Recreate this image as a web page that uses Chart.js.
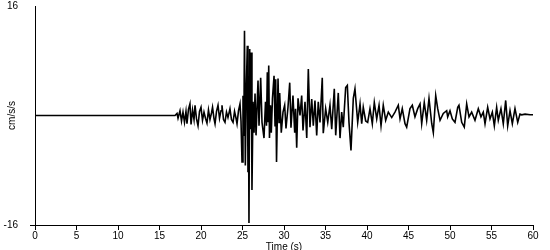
<!DOCTYPE html>
<html>
<head>
<meta charset="utf-8">
<script src="https://cdn.jsdelivr.net/npm/chart.js@4/dist/chart.umd.min.js"></script>
<style>
  html, body { margin: 0; padding: 0; background: #ffffff; }
  #c { display: block; }
</style>
</head>
<body>
<canvas id="c" width="550" height="250"></canvas>
<script>
// Time (s) of each traced sample
const times = [
  0, 16.87,
  17.11, 17.23, 17.47, 17.65, 17.83, 18.01, 18.19, 18.31, 18.49, 18.67,
  18.80, 18.98, 19.16, 19.28, 19.46, 19.64, 19.82, 20.00, 20.18, 20.36,
  20.54, 20.72, 20.90, 21.08, 21.27, 21.39, 21.57, 21.69, 21.87, 22.05,
  22.23, 22.41, 22.53, 22.71, 22.89, 23.07, 23.25, 23.49, 23.67, 23.86,
  24.04, 24.22, 24.34, 24.52, 24.70, 24.82,
  24.94, 25.06, 25.16, 25.24, 25.34, 25.46, 25.58, 25.66, 25.72, 25.78,
  25.87, 25.96, 26.06, 26.14, 26.27, 26.39, 26.51, 26.63, 26.87, 26.99,
  27.19, 27.35, 27.59, 27.77, 27.89, 27.99, 28.07, 28.16, 28.25, 28.37,
  28.47, 28.61, 28.80, 28.92, 29.00, 29.10, 29.28, 29.40, 29.48, 29.67,
  29.88, 30.08, 30.24, 30.48, 30.69, 30.84, 31.08, 31.29, 31.39, 31.53,
  31.69, 31.93, 32.13, 32.29, 32.53, 32.74, 32.93, 33.13, 33.34, 33.53,
  33.73, 33.94, 34.13, 34.34, 34.61, 34.73, 35.02, 35.27, 35.54, 35.75,
  36.06, 36.23, 36.54, 36.75, 36.95, 37.14, 37.43, 37.63, 37.83, 38.07,
  38.35, 38.55, 38.88, 39.16, 39.36, 39.55, 39.84, 40.08, 40.36, 40.64,
  40.88, 41.17, 41.45, 41.69, 41.96, 42.25, 42.57, 42.98, 43.37, 43.77,
  43.98, 44.25, 44.58, 44.78, 45.18, 45.46, 45.78, 46.11, 46.39, 46.59,
  46.90, 47.19, 47.47, 47.80, 47.99, 48.28, 48.52, 48.80, 49.19, 49.60,
  49.72, 50.00, 50.28, 50.60, 50.93, 51.08, 51.41, 51.72, 52.01, 52.29,
  52.61, 53.01, 53.41, 53.73, 54.01, 54.22, 54.54, 54.82, 55.10, 55.34,
  55.62, 55.82, 56.14, 56.42, 56.71, 56.95, 57.23, 57.51, 57.83, 58.16,
  58.43, 58.64, 59.04, 59.64, 60.00
];

// Acceleration (cm/s/s)
const accel = [
  0, 0,
  0.3, -0.4, 0.7, -0.8, 0.5, -1.0, 0.6, -1.2, 0.9, 1.7,
  -1.3, 0.8, -0.6, 1.5, -0.5, -1.5, 0.6, 1.2, -0.7, 0.5,
  -0.4, -1.1, 0.8, -0.6, 0.4, 1.2, -0.5, -1.2, 0.6, 1.5,
  -0.4, 0.7, 1.5, -0.6, -1.0, 0.5, -0.3, 1.0, -0.6, -1.0,
  0.6, -0.4, -1.2, 0.7, 1.7, -0.8,
  -6.8, 2.9, -3.0, 12.4, -7.3, 4.0, 10.2, -8.3, 2.0, -15.7,
  9.7, -2.0, 9.2, -10.9, 2.0, -2.5, 3.2, -2.9, 5.1, -1.5,
  5.5, -1.0, -3.3, 2.0, -1.5, 6.3, -1.0, 7.3, -3.3, 1.5,
  -2.5, 2.5, 5.8, -1.5, 5.3, -6.8, 5.4, -1.0, 3.3, -2.5,
  0.5, 1.5, -1.9, 1.2, 4.8, -1.8, 2.9, -2.5, 1.0, -4.7,
  2.5, 0.0, 2.9, -2.2, 2.0, -3.3, 6.8, -1.7, 2.4, -1.5,
  2.2, -2.9, 2.0, -1.0, 5.5, -2.6, 1.0, -1.0, 1.5, -2.0,
  3.9, -2.9, 3.3, -3.3, 0.5, -1.7, 4.1, 4.4, -1.0, -5.1,
  2.5, 3.9, -1.0, 1.7, -1.2, 1.2, -0.8, -1.0, 1.0, -1.2,
  1.9, -0.5, 1.5, -1.5, 1.5, -0.7, 0.5, -0.3, 0.5, 1.5,
  -0.5, 1.0, -1.2, -1.7, 1.0, 1.5, -0.2, 1.0, 1.7, -1.2,
  1.9, -0.7, 2.5, -1.2, -2.5, 2.9, 1.0, -0.7, 0.3, 0.7,
  -0.2, 0.7, -0.5, -1.0, 1.2, 1.5, -1.0, -1.7, 1.7, -0.2,
  0.5, -0.7, 1.0, -0.2, 0.5, -1.2, 1.2, -0.5, 0.5, -1.5,
  1.2, -0.7, 1.0, -1.2, 2.2, -1.5, 0.7, -1.2, 1.0, -1.0,
  0.2, 0.1, 0.2, 0.1, 0.1
];

const xTicks = [0, 5, 10, 15, 20, 25, 30, 35, 40, 45, 50, 55, 60];
const yTicks = [-16, 16];
const xTitle = 'Time (s)';
const yTitle = 'cm/s/s';

const n = Math.min(times.length, accel.length);
const points = [];
for (let i = 0; i < n; i++) points.push({ x: times[i], y: accel[i] });

const FONT = { family: '"Liberation Sans", Arial, sans-serif', size: 10 };

new Chart(document.getElementById('c'), {
  type: 'line',
  data: {
    datasets: [{
      data: points,
      borderColor: '#000000',
      borderWidth: 1.6,
      pointRadius: 0,
      tension: 0,
      fill: false
    }]
  },
  options: {
    responsive: false,
    animation: false,
    devicePixelRatio: 1,
    layout: { padding: { left: 0, right: 17, top: 6, bottom: 0 } },
    plugins: { legend: { display: false }, tooltip: { enabled: false } },
    scales: {
      x: {
        type: 'linear',
        min: xTicks[0],
        max: xTicks[xTicks.length - 1],
        afterBuildTicks: s => { s.ticks = xTicks.map(v => ({ value: v })); },
        afterFit: s => { s.height = 25; s.paddingLeft = 0; s.paddingRight = 0; },
        grid: { drawOnChartArea: false, tickLength: 5, color: '#000000', tickColor: '#000000' },
        border: { color: '#000000', width: 1 },
        ticks: { color: '#000000', font: FONT, padding: 0, maxRotation: 0, autoSkip: false },
        title: {
          display: true, text: xTitle, color: '#000000',
          font: { family: FONT.family, size: 10, lineHeight: 1 },
          padding: { top: 0, bottom: -2 }
        }
      },
      y: {
        type: 'linear',
        min: yTicks[0],
        max: yTicks[yTicks.length - 1],
        afterBuildTicks: s => { s.ticks = yTicks.map(v => ({ value: v })); },
        afterFit: s => { s.width = 35; s.paddingTop = 0; s.paddingBottom = 0; },
        grid: {
          drawOnChartArea: false, tickLength: 5, color: '#000000',
          tickColor: ctx => (ctx.tick && ctx.tick.value === yTicks[yTicks.length - 1]) ? 'rgba(0,0,0,0)' : '#000000'
        },
        border: { color: '#000000', width: 1 },
        ticks: { color: '#000000', font: FONT, padding: 12, autoSkip: false },
        title: {
          display: true, text: yTitle, color: '#000000',
          font: FONT, padding: { top: 6, bottom: 0 }
        }
      }
    }
  }
});
</script>
</body>
</html>
